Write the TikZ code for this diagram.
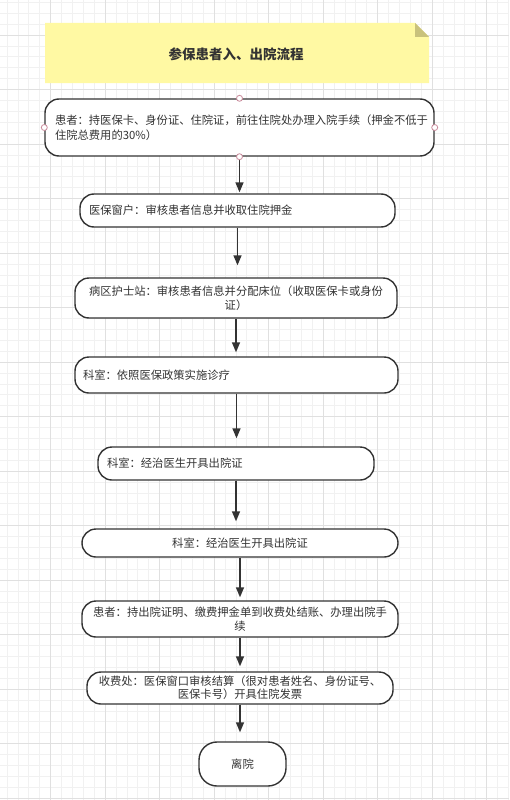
\documentclass[tikz,border=0pt]{standalone}
\usepackage{fontspec}
\setmainfont{Noto Sans CJK SC}
\usepackage{tikz}
\usetikzlibrary{arrows.meta,positioning}
\definecolor{ink}{HTML}{333333}
\definecolor{notefill}{HTML}{FFF9A3}
\definecolor{notefold}{HTML}{C9C27C}
\definecolor{gridlo}{HTML}{F1F1F1}
\definecolor{gridhi}{HTML}{E0E0E0}
\definecolor{portline}{HTML}{C98A9B}

\begin{document}
\begin{tikzpicture}[x=1pt,y=-1pt,font=\fontsize{11.3}{14.5}\selectfont,
  stepbox/.style={draw=ink,line width=1.4pt,rounded corners=14pt,fill=white,text=ink,inner ysep=2pt},
  port/.style={circle,draw=portline,fill=white,line width=0.8pt,minimum size=6pt,inner sep=0pt},
  flow/.style={draw=ink,line width=1.4pt,-{Triangle[length=10pt,width=8pt]}}]
  \useasboundingbox[fill=white] (0,0) rectangle (509,800);
  \foreach \i in {0,...,47} \draw[gridlo,line width=0.6pt] ({-4+10.9*\i},0) -- ++(0,800);
  \foreach \i in {0,...,74} \draw[gridlo,line width=0.6pt] (0,{-19.5+10.9*\i}) -- ++(509,0);
  \foreach \i in {0,...,9} \draw[gridhi,line width=0.6pt] ({-4+54.5*\i},0) -- ++(0,800);
  \foreach \i in {0,...,15} \draw[gridhi,line width=0.6pt] (0,{-19.5+54.5*\i}) -- ++(509,0);

  \fill[notefill] (45,23) -- (415,23) -- (429,37) -- (429,83) -- (45,83) -- cycle;
  \fill[notefold] (415,23) -- (415,37) -- (429,37) -- cycle;
  \node[font=\fontsize{13.5}{16}\selectfont\bfseries,text=ink] (title) at (236,54) {参保患者入、出院流程};

  \node[stepbox,text width=369pt,inner xsep=10pt,minimum height=57pt,align=left] (ruyuan) at (239.5,127.5)
    {患者：持医保卡、身份证、住院证，前往住院处办理入院手续（押金不低于\\住院总费用的30\%）};
  \node[stepbox,text width=297pt,inner xsep=9pt,minimum height=33pt,align=left] (chuangkou) at (237.5,210.5)
    {医保窗户：审核患者信息并收取住院押金};
  \node[stepbox,text width=302pt,inner xsep=10pt,minimum height=40pt,align=center] (hushi) at (236,298)
    {病区护士站：审核患者信息并分配床位（收取医保卡或身份\\证）};
  \node[stepbox,text width=307pt,inner xsep=8pt,minimum height=36pt,align=left] (zhenliao) at (236.5,375)
    {科室：依照医保政策实施诊疗};
  \node[stepbox,text width=258pt,inner xsep=9pt,minimum height=33pt,align=left] (chuyuanA) at (236,463.5)
    {科室：经治医生开具出院证};
  \node[stepbox,text width=296pt,inner xsep=10pt,minimum height=28pt,align=center] (chuyuanB) at (240,543)
    {科室：经治医生开具出院证};
  \node[stepbox,text width=296pt,inner xsep=10pt,minimum height=36pt,align=center] (jiezhang) at (240,619)
    {患者：持出院证明、缴费押金单到收费处结账、办理出院手\\续};
  \node[stepbox,text width=286pt,inner xsep=10pt,minimum height=32pt,align=center,
    font=\fontsize{11.3}{13}\selectfont] (shoufei) at (240,688)
    {收费处：医保窗口审核结算（很对患者姓名、身份证号、\\医保卡号）开具住院发票};
  \node[stepbox,text width=67pt,inner xsep=10pt,minimum height=44pt,align=center,rounded corners=18pt] (liyuan) at (242.5,764)
    {离院};

  \foreach \a/\b/\g in {ruyuan/chuangkou/1,chuangkou/hushi/12,hushi/zhenliao/4,zhenliao/chuyuanA/8,
    chuyuanA/chuyuanB/7,chuyuanB/jiezhang/3,jiezhang/shoufei/5,shoufei/liyuan/9}
    \draw[flow,shorten >=\g pt] (\a.south) -- (\a.south |- \b.north);

  \foreach \p in {north,south,west,east}
    \node[port] (ruyuan-\p) at (ruyuan.\p) {};
\end{tikzpicture}
\end{document}
